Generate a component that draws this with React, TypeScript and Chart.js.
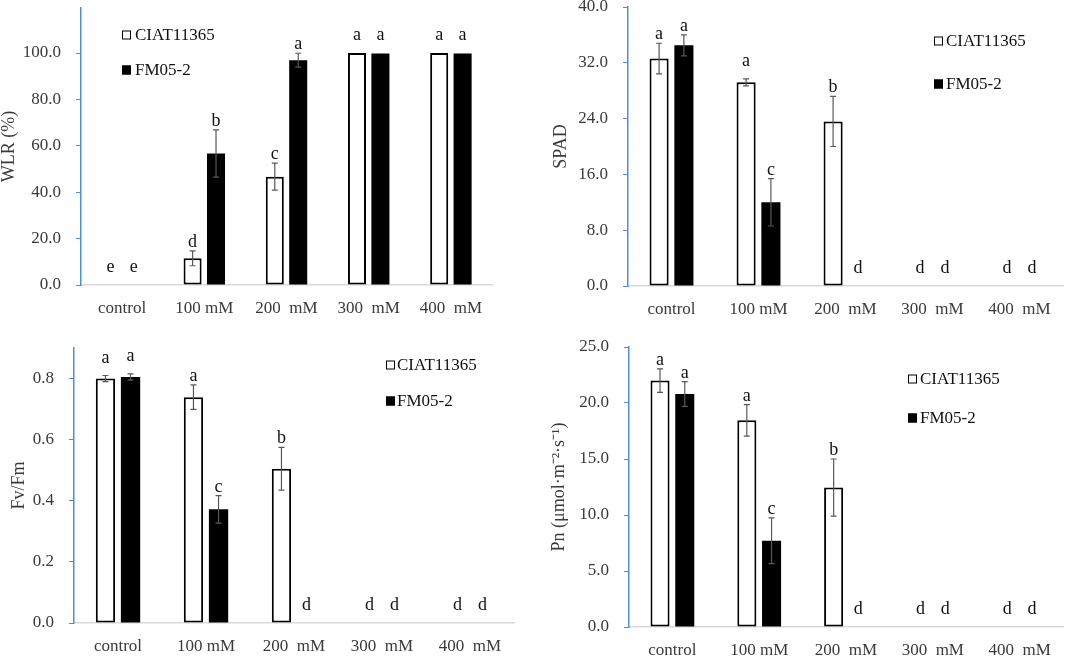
import { useEffect, useRef } from "react";
import Chart from "chart.js/auto";

const CATEGORIES = ["control", "100 mM", "200  mM", "300  mM", "400  mM"];
const SERIES_NAMES = ["CIAT11365", "FM05-2"];

// water loss rate
const WLR_CIAT = [0, 11.5, 46.7, 100, 100];
const WLR_CIAT_ERR = [0, 3.2, 5.8, 0, 0];
const WLR_CIAT_LETTERS = ["e", "d", "c", "a", "a"];
const WLR_FM = [0, 56.7, 96.9, 99.8, 99.8];
const WLR_FM_ERR = [0, 10.2, 3.0, 0, 0];
const WLR_FM_LETTERS = ["e", "b", "a", "a", "a"];

// chlorophyll
const SPAD_CIAT = [32.6, 29.2, 23.6, 0, 0];
const SPAD_CIAT_ERR = [2.2, 0.5, 3.6, 0, 0];
const SPAD_CIAT_LETTERS = ["a", "a", "b", "d", "d"];
const SPAD_FM = [34.5, 12.0, 0, 0, 0];
const SPAD_FM_ERR = [1.5, 3.4, 0, 0, 0];
const SPAD_FM_LETTERS = ["a", "c", "d", "d", "d"];

// Fv/Fm
const FVFM_CIAT = [0.8, 0.739, 0.505, 0, 0];
const FVFM_CIAT_ERR = [0.01, 0.04, 0.07, 0, 0];
const FVFM_CIAT_LETTERS = ["a", "a", "b", "d", "d"];
const FVFM_FM = [0.805, 0.372, 0, 0, 0];
const FVFM_FM_ERR = [0.01, 0.045, 0, 0, 0];
const FVFM_FM_LETTERS = ["a", "c", "d", "d", "d"];

// net photosynthesis
const PN_CIAT = [22.0, 18.45, 12.45, 0, 0];
const PN_CIAT_ERR = [1.05, 1.4, 2.55, 0, 0];
const PN_CIAT_LETTERS = ["a", "a", "b", "d", "d"];
const PN_FM = [20.8, 7.7, 0, 0, 0];
const PN_FM_ERR = [1.1, 2.05, 0, 0, 0];
const PN_FM_LETTERS = ["a", "c", "d", "d", "d"];

const FONT = "'Liberation Serif', 'Times New Roman', serif";
const AXIS_BLUE = "#4a90d9";
const TEXT = "#3a3a3a";

// error bars, significance letters and the little legend
const annotate = {
  id: "annotate",
  afterDatasetsDraw(chart: any, _args: any, opts: any) {
    const { ctx } = chart;
    const y = chart.scales.y;
    ctx.save();
    chart.data.datasets.forEach((ds: any, di: number) => {
      const meta = chart.getDatasetMeta(di);
      meta.data.forEach((bar: any, i: number) => {
        const v = ds.data[i];
        const e = opts.errors[di][i];
        const top = y.getPixelForValue(v + e);
        const half = y.getPixelForValue(v) - top;
        if (e > 0) {
          const bottom = y.getPixelForValue(v - e);
          ctx.strokeStyle = "#595959";
          ctx.lineWidth = 1.2;
          ctx.beginPath();
          ctx.moveTo(bar.x, top);
          ctx.lineTo(bar.x, bottom);
          ctx.moveTo(bar.x - 3, top);
          ctx.lineTo(bar.x + 3, top);
          ctx.moveTo(bar.x - 3, bottom);
          ctx.lineTo(bar.x + 3, bottom);
          ctx.stroke();
        }
        ctx.fillStyle = "#111";
        ctx.font = `18px ${FONT}`;
        ctx.textAlign = "center";
        ctx.textBaseline = "alphabetic";
        ctx.fillText(opts.letters[di][i], bar.x, top - (half < 6 ? 13 : 4));
      });
    });

    const lg = opts.legend;
    chart.data.datasets.forEach((ds: any, di: number) => {
      const cy = lg.rows[di];
      ctx.fillStyle = ds.backgroundColor;
      ctx.fillRect(lg.boxX, cy - 4.5, 9, 9);
      ctx.strokeStyle = "#000";
      ctx.lineWidth = 1;
      ctx.strokeRect(lg.boxX + 0.5, cy - 4, 8, 8);
      ctx.fillStyle = "#111";
      ctx.font = `17px ${FONT}`;
      ctx.textAlign = "left";
      ctx.textBaseline = "middle";
      ctx.fillText(ds.label, lg.textX, cy + 1);
    });
    ctx.restore();
  },
};

interface PanelProps {
  x: number;
  y: number;
  w: number;
  h: number;
  area: { left: number; right: number; top: number; bottom: number };
  yMax: number;
  yStep: number;
  yTitle: string;
  titlePad: number;
  ciat: number[];
  fm: number[];
  errors: number[][];
  letters: string[][];
  legend: { boxX: number; textX: number; rows: number[] };
}

const Panel = (p: PanelProps) => {
  const chartRef = useRef<HTMLCanvasElement | null>(null);

  useEffect(() => {
    if (!chartRef.current) return;
    const ctx = chartRef.current.getContext("2d");
    if (!ctx) return;

    const chartInstance = new Chart(ctx, {
      type: "bar",
      data: {
        labels: CATEGORIES,
        datasets: [
          {
            label: SERIES_NAMES[0],
            data: p.ciat,
            backgroundColor: "#ffffff",
            borderColor: "#000000",
            borderWidth: 2,
            borderSkipped: false,
          },
          {
            label: SERIES_NAMES[1],
            data: p.fm,
            backgroundColor: "#000000",
            borderColor: "#000000",
            borderWidth: 0,
          },
        ],
      },
      options: {
        animation: false,
        responsive: true,
        maintainAspectRatio: false,
        datasets: { bar: { categoryPercentage: 0.57, barPercentage: 0.77 } },
        layout: {
          padding: { top: p.area.top, right: p.w - p.area.right, left: 0, bottom: 0 },
        },
        plugins: {
          legend: { display: false },
          tooltip: { enabled: false },
          annotate: { errors: p.errors, letters: p.letters, legend: p.legend },
        } as any,
        scales: {
          x: {
            grid: { display: false, drawTicks: false },
            border: { display: true, color: "#d9d9d9", width: 1.5 },
            ticks: {
              font: { family: FONT, size: 17 },
              color: TEXT,
              padding: 13,
              maxRotation: 0,
              autoSkip: false,
            },
            afterFit: (scale: any) => {
              scale.height = p.h - p.area.bottom;
              scale.paddingLeft = 0;
              scale.paddingRight = 0;
            },
          },
          y: {
            min: 0,
            max: p.yMax,
            grid: {
              drawOnChartArea: false,
              drawTicks: true,
              tickLength: 5,
              color: AXIS_BLUE,
            },
            border: { display: true, color: AXIS_BLUE, width: 1.5 },
            ticks: {
              stepSize: p.yStep,
              includeBounds: false,
              font: { family: FONT, size: 17 },
              color: TEXT,
              padding: 15,
              callback: (v: any) => Number(v).toFixed(1),
            },
            title: {
              display: true,
              text: p.yTitle,
              font: { family: FONT, size: 18, lineHeight: 1 },
              color: TEXT,
              padding: { top: p.titlePad, bottom: 0 },
            },
            afterFit: (scale: any) => {
              scale.width = p.area.left;
              scale.paddingTop = 0;
              scale.paddingBottom = 0;
            },
          },
        },
      } as any,
      plugins: [annotate],
    });

    return () => {
      chartInstance.destroy();
    };
  }, []);

  return (
    <div style={{ position: "absolute", left: p.x, top: p.y, width: p.w, height: p.h }}>
      <canvas ref={chartRef}></canvas>
    </div>
  );
};

const App = () => {
  return (
    <div
      style={{
        position: "absolute",
        left: 0,
        top: 0,
        width: 1084,
        height: 656,
        background: "#ffffff",
        overflow: "hidden",
      }}
    >
      <Panel
        x={0}
        y={0}
        w={540}
        h={330}
        area={{ left: 81, right: 492, top: 8, bottom: 285 }}
        yMax={119.4}
        yStep={20}
        yTitle="WLR (%)"
        titlePad={0}
        ciat={WLR_CIAT}
        fm={WLR_FM}
        errors={[WLR_CIAT_ERR, WLR_FM_ERR]}
        letters={[WLR_CIAT_LETTERS, WLR_FM_LETTERS]}
        legend={{ boxX: 122, textX: 135, rows: [35, 70] }}
      />
      <Panel
        x={540}
        y={0}
        w={544}
        h={330}
        area={{ left: 88, right: 523, top: 7, bottom: 286 }}
        yMax={40}
        yStep={8}
        yTitle="SPAD"
        titlePad={12}
        ciat={SPAD_CIAT}
        fm={SPAD_FM}
        errors={[SPAD_CIAT_ERR, SPAD_FM_ERR]}
        letters={[SPAD_CIAT_LETTERS, SPAD_FM_LETTERS]}
        legend={{ boxX: 394, textX: 406, rows: [41, 84] }}
      />
      <Panel
        x={0}
        y={330}
        w={540}
        h={326}
        area={{ left: 74, right: 514, top: 18, bottom: 293 }}
        yMax={0.9}
        yStep={0.2}
        yTitle="Fv/Fm"
        titlePad={10}
        ciat={FVFM_CIAT}
        fm={FVFM_FM}
        errors={[FVFM_CIAT_ERR, FVFM_FM_ERR]}
        letters={[FVFM_CIAT_LETTERS, FVFM_FM_LETTERS]}
        legend={{ boxX: 386, textX: 397, rows: [35, 71] }}
      />
      <Panel
        x={540}
        y={330}
        w={544}
        h={326}
        area={{ left: 89, right: 523, top: 17, bottom: 297 }}
        yMax={25}
        yStep={5}
        yTitle="Pn (μmol·m⁻²·s⁻¹)"
        titlePad={10}
        ciat={PN_CIAT}
        fm={PN_FM}
        errors={[PN_CIAT_ERR, PN_FM_ERR]}
        letters={[PN_CIAT_LETTERS, PN_FM_LETTERS]}
        legend={{ boxX: 368, textX: 380, rows: [49, 88] }}
      />
    </div>
  );
};

export default App;
